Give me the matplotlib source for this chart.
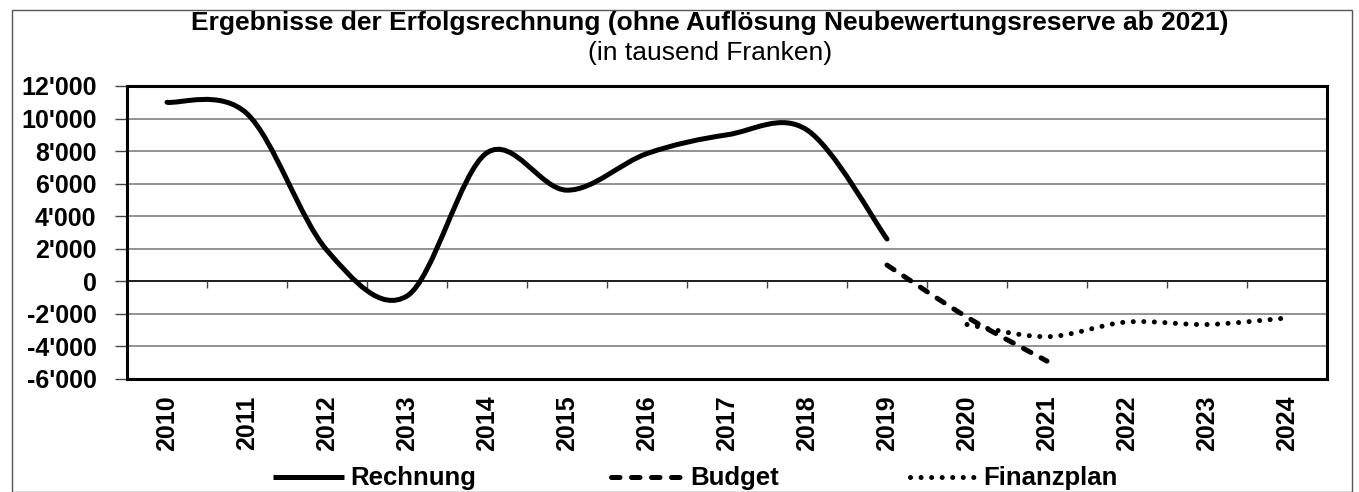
import numpy as np
import matplotlib.pyplot as plt
from matplotlib.path import Path
from matplotlib.patches import PathPatch, Rectangle
from matplotlib.lines import Line2D
from matplotlib.ticker import FuncFormatter

plt.rcParams['font.family'] = ['Liberation Sans', 'DejaVu Sans']

years = [str(y) for y in range(2010, 2025)]

# values in thousand CHF
rechnung_years = years[0:10]
rechnung = [11000, 10300, 1900, -900, 7900, 5600, 7850, 9000, 9300, 2600]
budget_years = years[9:12]
budget = [1000, -2200, -4900]
finanzplan_years = years[10:15]
finanzplan = [-2650, -3400, -2500, -2650, -2250]


def smooth_path(xs, ys):
    # Excel-like smoothed line: cubic Bezier through the points (Catmull-Rom)
    pts = np.column_stack([xs, ys]).astype(float)
    n = len(pts)
    verts = [pts[0]]
    codes = [Path.MOVETO]
    for i in range(n - 1):
        p_prev = pts[i - 1] if i > 0 else pts[i]
        p_next = pts[i + 2] if i + 2 < n else pts[i + 1]
        c1 = pts[i] + (pts[i + 1] - p_prev) / 6
        c2 = pts[i + 1] - (p_next - pts[i]) / 6
        verts += [c1, c2, pts[i + 1]]
        codes += [Path.CURVE4] * 3
    return Path(verts, codes)


def idx(labels):
    return [years.index(l) for l in labels]


W, H = 1359, 492
fig = plt.figure(figsize=(W / 100, H / 100), dpi=100)

# chart area border
fig.patches.append(Rectangle((12 / W, 0), (1352 - 12) / W, (H - 10) / H,
                             transform=fig.transFigure, fill=False,
                             edgecolor='#555555', lw=1.0))

ax = fig.add_axes([127 / W, (H - 379) / H, 1200 / W, (379 - 86) / H])

ax.set_xlim(-0.5, len(years) - 0.5)
ax.set_ylim(-6000, 12000)
ax.set_yticks(np.arange(-6000, 12001, 2000))
ax.yaxis.set_major_formatter(FuncFormatter(lambda v, p: f"{v:,.0f}".replace(",", "'")))
ax.grid(axis='y', color='#8a8a8a', lw=1.3)
ax.set_axisbelow(True)
ax.axhline(0, color='black', lw=1.1, zorder=1.5)
ax.vlines(np.arange(0.5, len(years) - 1, 1), -420, 0, color='#444444', lw=1.0, zorder=1.5)

ax.set_xticks(range(len(years)))
ax.set_xticklabels(years, rotation=90, fontsize=18, fontweight='bold')
ax.tick_params(axis='x', length=0, pad=12)
ax.tick_params(axis='y', length=9, width=1, color='#444444', pad=13, labelsize=18)
for lab in ax.get_yticklabels():
    lab.set_fontweight('bold')
for s in ax.spines.values():
    s.set_linewidth(2.2)
    s.set_color('black')

lw = 3.6
styles = [
    ('Rechnung', rechnung_years, rechnung, '-'),
    ('Budget', budget_years, budget, (0, (1.7, 2.3))),
    ('Finanzplan', finanzplan_years, finanzplan, (0, (0.01, 2.1))),
]
handles = []
for name, xl, vals, ls in styles:
    patch = PathPatch(smooth_path(idx(xl), vals), fill=False, edgecolor='black',
                      lw=lw, linestyle=ls, capstyle='round', joinstyle='round', zorder=3)
    ax.add_patch(patch)
    handles.append(Line2D([], [], color='black', lw=lw, linestyle=ls,
                          dash_capstyle='round', solid_capstyle='butt', label=name))

# legend entries placed like the original
leg_x = [273, 611, 910]
hlen = [2.75, 2.85, 2.6]
for h, x0, hl in zip(handles, leg_x, hlen):
    fig.legend(handles=[h], loc='center left', bbox_to_anchor=(x0 / W, 1 - 478.5 / H),
               frameon=False, borderpad=0, borderaxespad=0, handlelength=hl,
               handletextpad=0.25, prop={'weight': 'bold', 'size': 18.5})

fig.text(710 / W, 1 - 23 / H,
         'Ergebnisse der Erfolgsrechnung (ohne Auflösung Neubewertungsreserve ab 2021)',
         ha='center', va='center', fontsize=19, fontweight='bold')
fig.text(710 / W, 1 - 53 / H, '(in tausend Franken)', ha='center', va='center', fontsize=19)

fig.savefig('out.png', dpi=100)
